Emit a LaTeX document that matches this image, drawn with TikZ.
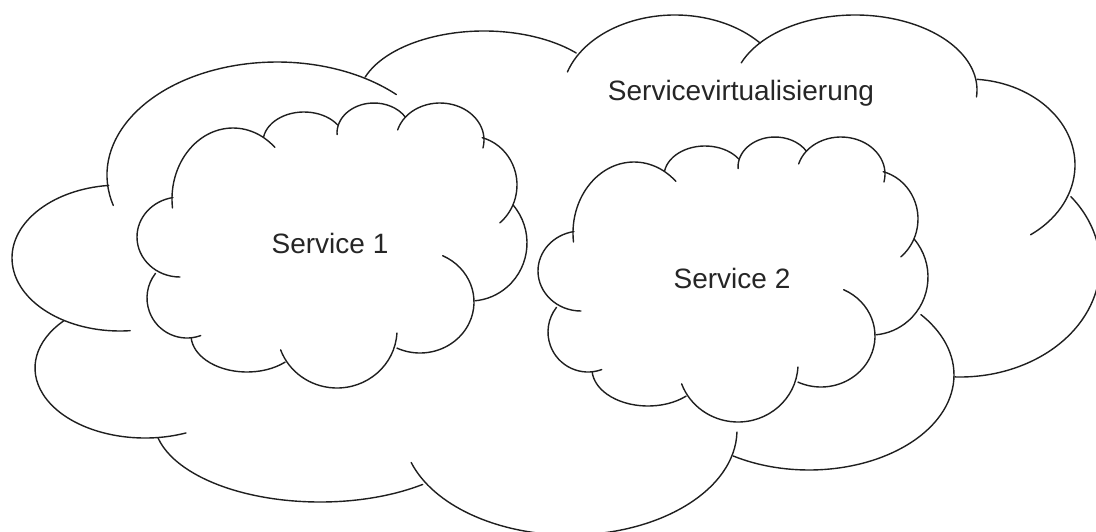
\documentclass[tikz,border=0pt]{standalone}
\usepackage{fontspec}
\setmainfont{Liberation Sans}
% \lobearc{cx}{cy}{rx}{ry}{start angle}{end angle}  (screen coordinates, y downwards)
\newcommand\lobearc[6]{\draw[lobe] ({#1+#3*cos(#5)},{#2+#4*sin(#5)}) arc[start angle=#5, end angle=#6, x radius=#3, y radius=#4];}
\newcommand\smallcloudlobes{%
  \lobearc{233}{199}{61}{71}{172.7}{313.3}
  \lobearc{304}{142}{41}{30}{190}{325.6}
  \lobearc{374}{133}{37}{30}{177}{328}
  \lobearc{440}{140}{44}{37}{195.8}{372.5}
  \lobearc{470}{185}{47}{49}{285}{410.6}
  \lobearc{470}{243}{57}{58}{319}{445}
  \lobearc{420}{302}{54}{51}{294.8}{475.3}
  \lobearc{337}{330}{60}{58}{3}{160}
  \lobearc{247}{335}{56}{37}{47.1}{175.3}
  \lobearc{187}{298}{40}{40}{70}{218}
  \lobearc{180}{237}{43}{40}{90}{260.5}
}
\begin{document}
\begin{tikzpicture}[x=1pt,y=-1pt,
  lobe/.style={draw=black!88, line width=1.4pt, line cap=round},
  lbl/.style={anchor=base, inner sep=0pt, text=black!85, font=\fontsize{28}{33}\selectfont}]
\useasboundingbox (0,0) rectangle (1096,531);
\clip (0,0) rectangle (1096,531);
% ---------- big cloud ----------
\lobearc{277}{175}{170}{113}{164.4}{314.6}
\lobearc{484}{100}{126}{69}{199.4}{317}
\lobearc{675}{97}{113}{82}{197.8}{318.9}
\lobearc{855}{90}{122}{75}{201.2}{365.3}
\lobearc{968}{165}{107}{86}{274.9}{414.2}
\lobearc{960}{265}{140}{112}{322.3}{452.1}
\lobearc{809}{375}{145}{95}{320.5}{481.6}
\lobearc{570}{430}{167}{105}{1.1}{162}
\lobearc{320}{420}{166}{82}{51.8}{167.3}
\lobearc{145}{368}{110}{70}{68.1}{222.6}
\lobearc{120}{258}{108}{73}{84.6}{264}
% ---------- small cloud 1 ----------
\begin{scope}
  \smallcloudlobes
\end{scope}
% ---------- small cloud 2 ----------
\begin{scope}[shift={(401,34)}]
  \smallcloudlobes
\end{scope}
% ---------- labels ----------
\node[lbl] (tv) at (741,100) {Servicevirtualisierung};
\node[lbl] (t1) at (330,253) {Service 1};
\node[lbl] (t2) at (732,288) {Service 2};
\end{tikzpicture}
\end{document}
